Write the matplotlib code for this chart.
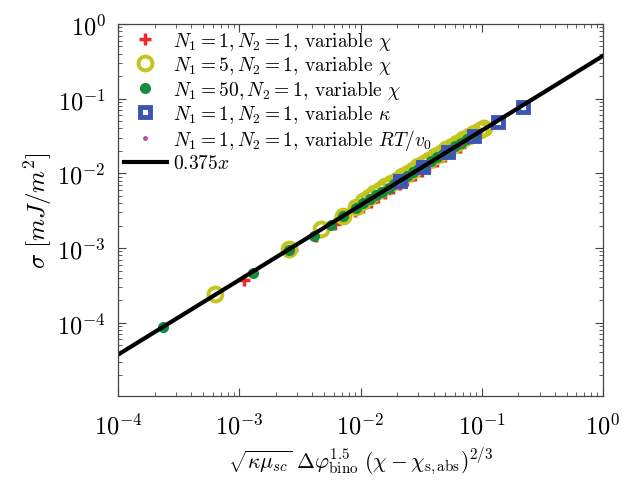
import numpy as np
import matplotlib
matplotlib.use("Agg")
import matplotlib.pyplot as plt
from matplotlib.ticker import LogLocator, NullFormatter

plt.rcParams['font.family'] = 'serif'
plt.rcParams['font.serif'] = ['cmr10']
plt.rcParams['mathtext.fontset'] = 'cm'
plt.rcParams['axes.unicode_minus'] = False
plt.rcParams['axes.formatter.use_mathtext'] = True

# N1=1, N2=1, variable chi
red_x = [1.1e-3, 2.7e-3, 4.3e-3, 6.2e-3, 7.4e-3, 9.0e-3, 0.0105, 0.0122, 0.014, 0.016,
         0.0185, 0.021, 0.024, 0.028, 0.032, 0.037, 0.043, 0.05, 0.058, 0.066]
red_y = [3.7e-4, 9.3e-4, 1.45e-3, 2.1e-3, 2.5e-3, 3.1e-3, 3.6e-3, 4.2e-3, 4.8e-3, 5.5e-3,
         6.3e-3, 7.2e-3, 8.2e-3, 9.6e-3, 0.0109, 0.0127, 0.0147, 0.0171, 0.0199, 0.0226]

# N1=5, N2=1, variable chi
yel_x = [6.3e-4, 2.55e-3, 4.7e-3, 7.1e-3, 9.1e-3, 0.0105, 0.0118, 0.013, 0.0145, 0.016,
         0.0178, 0.0198, 0.022, 0.0245, 0.027, 0.030, 0.0335, 0.037, 0.041, 0.046,
         0.051, 0.057, 0.063, 0.07, 0.078, 0.087, 0.097, 0.105]
yel_y = [2.45e-4, 9.7e-4, 1.8e-3, 2.7e-3, 3.6e-3, 4.3e-3, 4.9e-3, 5.4e-3, 6.0e-3, 6.7e-3,
         7.4e-3, 8.2e-3, 9.1e-3, 0.0101, 0.0112, 0.0124, 0.0138, 0.0153, 0.0169, 0.0189,
         0.021, 0.0233, 0.0258, 0.0285, 0.0316, 0.035, 0.0385, 0.041]

# N1=50, N2=1, variable chi
grn_x = [2.36e-4, 1.3e-3, 2.55e-3, 4.1e-3, 5.65e-3, 7.1e-3, 9.1e-3, 0.0105, 0.012, 0.0135,
         0.015, 0.017, 0.019, 0.0215, 0.024, 0.027, 0.030, 0.034, 0.038, 0.043,
         0.048, 0.054, 0.06, 0.067, 0.075, 0.084]
grn_y = [8.8e-5, 4.6e-4, 9.5e-4, 1.45e-3, 2.05e-3, 2.65e-3, 3.4e-3, 3.95e-3, 4.5e-3, 5.1e-3,
         5.7e-3, 6.4e-3, 7.2e-3, 8.2e-3, 9.1e-3, 0.0103, 0.0115, 0.013, 0.0145, 0.0164,
         0.0183, 0.0206, 0.0229, 0.0256, 0.0286, 0.032]

# N1=1, N2=1, variable kappa
blu_x = [0.021, 0.033, 0.053, 0.086, 0.135, 0.218]
blu_y = [0.0078, 0.0122, 0.0195, 0.0313, 0.049, 0.078]

# N1=1, N2=1, variable RT/v0
mag_x = [0.009, 0.011, 0.0135, 0.0165, 0.02, 0.025, 0.03, 0.037, 0.045, 0.055, 0.067, 0.08]
mag_y = [3.4e-3, 4.1e-3, 5.1e-3, 6.2e-3, 7.5e-3, 9.4e-3, 0.0113, 0.0139, 0.0169, 0.0206, 0.0251, 0.03]

fit_slope = 0.375
fit_x = [1e-4, 1.0]

fig = plt.figure(figsize=(6.22, 4.81), dpi=100)
ax = fig.add_axes([0.19, 0.175, 0.7795, 0.773])

ax.plot(red_x, red_y, ls='none', marker='+', ms=8, mew=2.5, color='#f02828',
        label=r'$N_1 = 1, N_2 = 1$, variable $\chi$')
ax.plot(yel_x, yel_y, ls='none', marker='o', ms=10, mew=2.8, mfc='none', mec='#c4c41e',
        label=r'$N_1 = 5, N_2 = 1$, variable $\chi$')
ax.plot(grn_x, grn_y, ls='none', marker='o', ms=8, mew=0, color='#168c3c',
        label=r'$N_1 = 50, N_2 = 1$, variable $\chi$')
ax.plot(blu_x, blu_y, ls='none', marker='s', ms=7, mew=3.5, mfc='none', mec='#3a55b4',
        label=r'$N_1 = 1, N_2 = 1$, variable $\kappa$')
ax.plot(mag_x, mag_y, ls='none', marker='o', ms=3.5, mew=0, color='#c048a8',
        label=r'$N_1 = 1, N_2 = 1$, variable $RT/v_0$')
ax.plot(fit_x, [fit_slope * v for v in fit_x], color='black', lw=3,
        label=r'$0.375x$')

ax.set_xscale('log')
ax.set_yscale('log')
ax.set_xlim(1e-4, 1)
ax.set_ylim(1.05e-5, 1)
ax.set_xticks([1e-4, 1e-3, 1e-2, 1e-1, 1])
ax.set_yticks([1e-4, 1e-3, 1e-2, 1e-1, 1])
ax.xaxis.set_minor_locator(LogLocator(base=10, subs=np.arange(2, 10)))
ax.yaxis.set_minor_locator(LogLocator(base=10, subs=np.arange(2, 10)))
ax.xaxis.set_minor_formatter(NullFormatter())
ax.yaxis.set_minor_formatter(NullFormatter())
ax.tick_params(which='both', direction='in', top=True, right=True, labelsize=17.5,
               color='#444444')
ax.tick_params(which='major', length=6, width=0.8)
ax.tick_params(axis='x', which='major', pad=12)
ax.tick_params(axis='y', which='major', pad=9)
ax.tick_params(which='minor', length=3, width=0.6)
for s in ax.spines.values():
    s.set_color('#444444')
    s.set_linewidth(0.9)

ax.set_xlabel(r'$\sqrt{\kappa\mu_{sc}}\ \Delta\varphi_{\mathrm{bino}}^{1.5}\ (\chi - \chi_{\mathrm{s,abs}})^{2/3}$',
              fontsize=15.5, labelpad=5)
ax.set_ylabel(r'$\sigma\ [mJ/m^2]$', fontsize=18, labelpad=2)

ax.legend(loc='upper left', frameon=False, fontsize=14, numpoints=1,
          handlelength=2.2, handletextpad=0.3, labelspacing=0.12,
          borderaxespad=0.1, borderpad=0.2)

fig.savefig('out.png', dpi=100)
